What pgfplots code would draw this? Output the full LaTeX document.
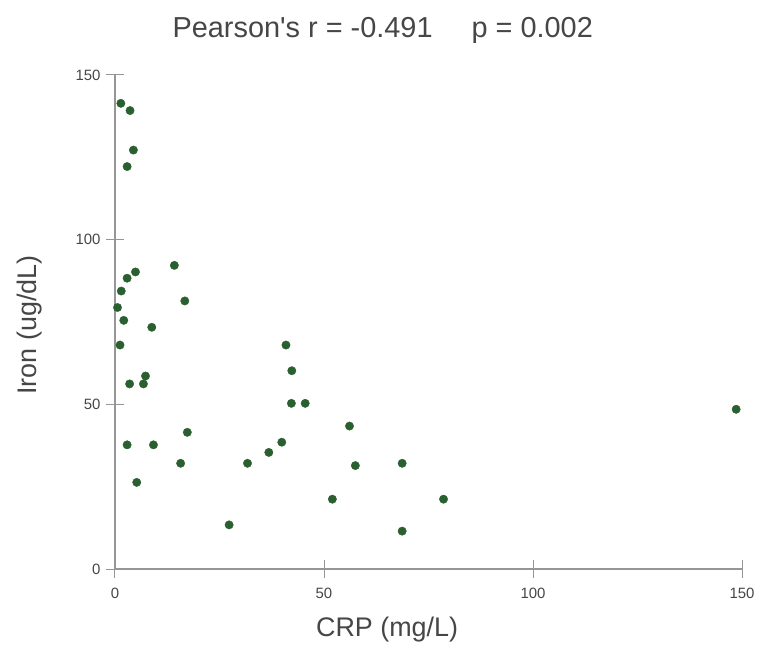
\documentclass[border=0pt]{standalone}
\usepackage{pgfplots}
\pgfplotsset{compat=1.18}
\usepackage{fontspec}
\setmainfont{Liberation Sans}[Ligatures=TeXOff]
\definecolor{dotgreen}{RGB}{42,96,48}
\definecolor{axgray}{RGB}{150,150,150}
\definecolor{txtgray}{RGB}{70,70,70}

\begin{document}
\begin{tikzpicture}
\begin{axis}[
    name=ax,
    scale only axis,
    width=627bp, height=494bp,
    xmin=0, xmax=150, ymin=0, ymax=150,
    axis x line=bottom, axis y line=left,
    axis line style={-, draw=axgray, line width=1.2bp},
    xtick={0,50,100,150}, ytick={0,50,100,150},
    tick align=center,
    major tick length=18bp,
    tick style={draw=axgray, line width=1bp},
    /pgf/number format/assume math mode=true,
    ticklabel style={font=\fontsize{15}{17}\selectfont, text=txtgray},
    yticklabel style={anchor=east, xshift=-2bp},
    xticklabel style={anchor=center, yshift=-15bp},
    title={Pearson's r = -0.491\hspace{39bp}p = 0.002},
    title style={at={(axis description cs:0.427,1.079)}, anchor=center,
        font=\fontsize{29}{32}\selectfont, text=txtgray},
    xlabel={CRP (mg/L)},
    xlabel style={at={(axis description cs:0.434,-0.1235)}, anchor=center,
        font=\fontsize{27}{30}\selectfont, text=txtgray},
    ylabel={Iron (ug/dL)},
    ylabel style={at={(axis description cs:-0.1356,0.494)}, anchor=center,
        font=\fontsize{27}{30}\selectfont, text=txtgray},
    clip=false,
]
\addplot[only marks, mark=*, mark size=4.2, color=dotgreen, mark options={fill=dotgreen, draw=dotgreen}]
coordinates {
(1.4,141.4) (3.6,139.2) (4.4,127.2) (2.9,122.2)
(14.2,92.2) (4.9,90.2) (2.9,88.3) (1.5,84.4)
(16.7,81.4) (0.6,79.4) (2.1,75.5) (8.8,73.4)
(1.2,68.0) (7.3,58.6) (6.8,56.2) (3.5,56.2)
(17.3,41.5) (2.9,37.7) (9.2,37.7) (15.7,32.1)
(5.2,26.3) (31.7,32.1) (36.8,35.4) (39.9,38.5)
(27.3,13.4) (40.9,68.0) (42.3,60.2) (42.2,50.3)
(45.5,50.3) (56.1,43.4) (57.5,31.4) (68.7,32.1)
(52.0,21.2) (78.6,21.2) (68.7,11.5) (148.6,48.5)
};
\end{axis}
\path ([shift={(-115bp,-90bp)}]ax.south west) rectangle ([shift={(16bp,75bp)}]ax.north east);
\end{tikzpicture}
\end{document}
